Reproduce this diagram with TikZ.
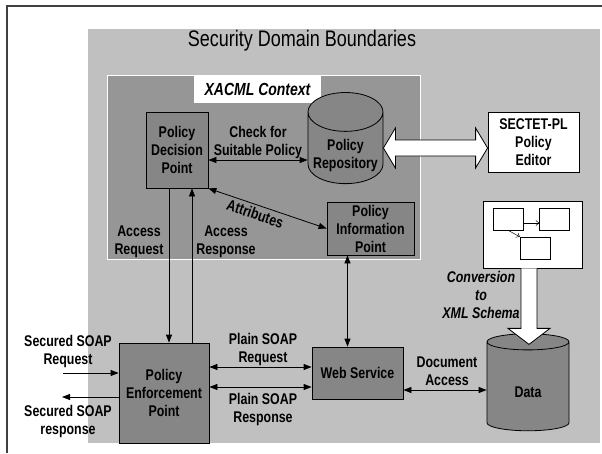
\documentclass[tikz,border=0pt]{standalone}
\usepackage{fontspec}
\setmainfont{Liberation Sans}[FakeStretch=0.8]
\usetikzlibrary{positioning,calc,shapes.geometric,arrows.meta}
\definecolor{Domain}{HTML}{C0C0C0}
\definecolor{Context}{HTML}{969696}
\definecolor{Component}{HTML}{868686}
\definecolor{Frame}{HTML}{404040}
\newcommand{\diagfont}{\fontsize{15.5}{18}\selectfont\bfseries}

\begin{document}
\begin{tikzpicture}[
			x=1pt, y=-1pt,
			component/.style={draw=black, fill=Component, line width=0.8pt, align=center, inner sep=0pt, font=\diagfont},
			store/.style={component, cylinder, shape border rotate=90, aspect=0.6},
			whitebox/.style={component, fill=white},
			msg/.style={align=center, inner sep=0pt, font=\diagfont},
			link/.style={line width=0.8pt, -{Triangle[length=8pt,width=6pt]}},
			twoway/.style={line width=0.8pt, {Triangle[length=8pt,width=6pt]}-{Triangle[length=8pt,width=6pt]}},
			blockarrow/.style={draw=black, fill=white, line width=0.8pt, line join=miter}
			]
			\useasboundingbox (0,0) rectangle (602,453);
			
			% Frame and security domain
			\draw[Frame, line width=1.2pt] (7,453) -- (7,6) -- (602,6);
			\fill[Domain] (88,29) rectangle (600,443);
			\node (title) at (302,41) {\fontsize{22.5}{24}\selectfont Security Domain Boundaries};
			
			% XACML Context
			\draw[fill=Context, draw=white, line width=0.8pt] (107,75) rectangle (420,259);
			\node[
			fill=white,
			minimum width=127pt,
			minimum height=28pt,
			font=\fontsize{17.5}{18}\selectfont\bfseries\itshape
			]
			(context) at (257.5,89)
			{XACML Context};
			
			% Policy Decision Point
			\node[component, minimum width=62pt, minimum height=76pt]
			(pdp) at (177,150)
			{Policy\\Decision\\Point};
			
			% Policy Repository
			\node[store, minimum width=75pt, minimum height=88pt]
			(repo) at (345.5,148)
			{\phantom{Policy}\\\phantom{Repository}};
			\node[msg] (repolabel) at ([yshift=-7pt]repo.center) {Policy\\Repository};
			
			% Policy Information Point
			\node[component, minimum width=87pt, minimum height=53pt]
			(pip) at (370.5,228.5)
			{Policy\\Information\\Point};
			
			% SECTET-PL Policy Editor
			\node[whitebox, minimum width=91pt, minimum height=60pt]
			(sectet) at (533.5,142)
			{SECTET-PL\\Policy\\Editor};
			
			% Schema sketch
			\node[whitebox, minimum width=99pt, minimum height=67pt]
			(schema) at (532.5,234.5) {};
			\node[draw, fill=white, line width=0.5pt, minimum width=30pt, minimum height=22pt, inner sep=0pt]
			(schemaA) at (508,219) {};
			\node[draw, fill=white, line width=0.5pt, minimum width=30pt, minimum height=22pt, inner sep=0pt]
			(schemaB) at (554.5,219) {};
			\node[draw, fill=white, line width=0.5pt, minimum width=30pt, minimum height=22pt, inner sep=0pt]
			(schemaC) at (535,248) {};
			\coordinate (schemaAB) at ([yshift=-4pt]schemaA.east);
			\draw[line width=0.5pt, -{Straight Barb[length=3pt,width=5pt]}] (schemaAB) -- (schemaAB -| schemaB.west);
			\draw[line width=0.5pt, -{Straight Barb[length=3pt,width=5pt]}] (schemaA.south) -- (schemaC.north west);
			
			% Policy Enforcement Point
			\node[component, minimum width=90pt, minimum height=100pt]
			(pep) at (164,393)
			{Policy\\Enforcement\\Point};
			
			% Web Service
			\node[component, minimum width=91pt, minimum height=52pt]
			(ws) at (357.5,373)
			{Web Service};
			
			% Data
			\node[store, minimum width=82pt, minimum height=97pt]
			(data) at (528,386.5)
			{\phantom{Data}};
			\node[msg] (datalabel) at ([yshift=-6pt]data.center) {Data};
			
			% Policy editor <-> repository
			\coordinate (edit) at (repo.east -| sectet.west);
			\draw[blockarrow] (repo.east) -- ++(12,-20) -- ++(0,12) -- ($(edit)+(-12,-8)$) -- ++(0,-12) -- (edit)
			-- ++(-12,20) -- ++(0,-12) -- ($(repo.east)+(12,8)$) -- ++(0,12) -- cycle;
			
			% Conversion to XML Schema
			\coordinate (convtop) at ([xshift=-3.5pt]schema.south);
			\coordinate (convtip) at ($(convtop |- data.north)+(0,11)$);
			\draw[blockarrow] ($(convtop)+(-8,0)$) -- ($(convtip)+(-8,-16)$) -- ++(-13,0) -- (convtip)
			-- ++(21,-16) -- ++(-13,0) -- ($(convtop)+(8,0)$);
			\node[msg, font=\diagfont\itshape] (convlabel) at (481,295) {Conversion\\to\\XML Schema};
			
			% Access request / response
			\coordinate (reqtop) at ([xshift=-8pt]pdp.south);
			\draw[link] (reqtop) -- (reqtop |- pep.north);
			\coordinate (resptop) at ([xshift=15pt]pdp.south);
			\draw[link] (resptop |- pep.north) -- (resptop);
			\node[msg] (reqlabel) at (139,242) {Access\\Request};
			\node[msg] (resplabel) at (226,242) {Access\\Response};
			
			% Check for suitable policy
			\coordinate (check) at ([yshift=-10pt]pdp.east);
			\draw[twoway] (check) -- (check -| repo.west);
			\node[msg] (checklabel) at (258,142) {Check for\\Suitable Policy};
			
			% Attributes
			\draw[twoway] (pdp.south east) -- node[msg, sloped, pos=0.42, below=3pt] (attrlabel) {Attributes} (pip.west);
			
			% Attributes lookup for the web service
			\coordinate (lookup) at ([xshift=-10pt]ws.north);
			\draw[twoway] (lookup |- pip.south) -- (lookup);
			
			% Plain SOAP
			\coordinate (plainreq) at ([yshift=6pt]ws.west);
			\draw[twoway] (plainreq -| pep.east) -- (plainreq);
			\coordinate (plainresp) at ([yshift=-14pt]ws.west);
			\draw[twoway] (plainresp -| pep.east) -- (plainresp);
			\node[msg] (plainreqlabel) at (263,349) {Plain SOAP\\Request};
			\node[msg] (plainresplabel) at (263,409) {Plain SOAP\\Response};
			
			% Document access
			\coordinate (docacc) at ([yshift=-17pt]ws.east);
			\draw[twoway] (docacc) -- (docacc -| data.west);
			\node[msg] (doclabel) at (447,371) {Document\\Access};
			
			% Secured SOAP
			\coordinate (secin) at (63,373);
			\draw[link] (secin) -- (secin -| pep.west);
			\coordinate (secout) at (62,397);
			\draw[link] (secout -| pep.west) -- (secout);
			\node[msg] (secreqlabel) at (68,351) {Secured SOAP\\Request};
			\node[msg] (secresplabel) at (68,421) {Secured SOAP\\response};
			
		\end{tikzpicture}
\end{document}
